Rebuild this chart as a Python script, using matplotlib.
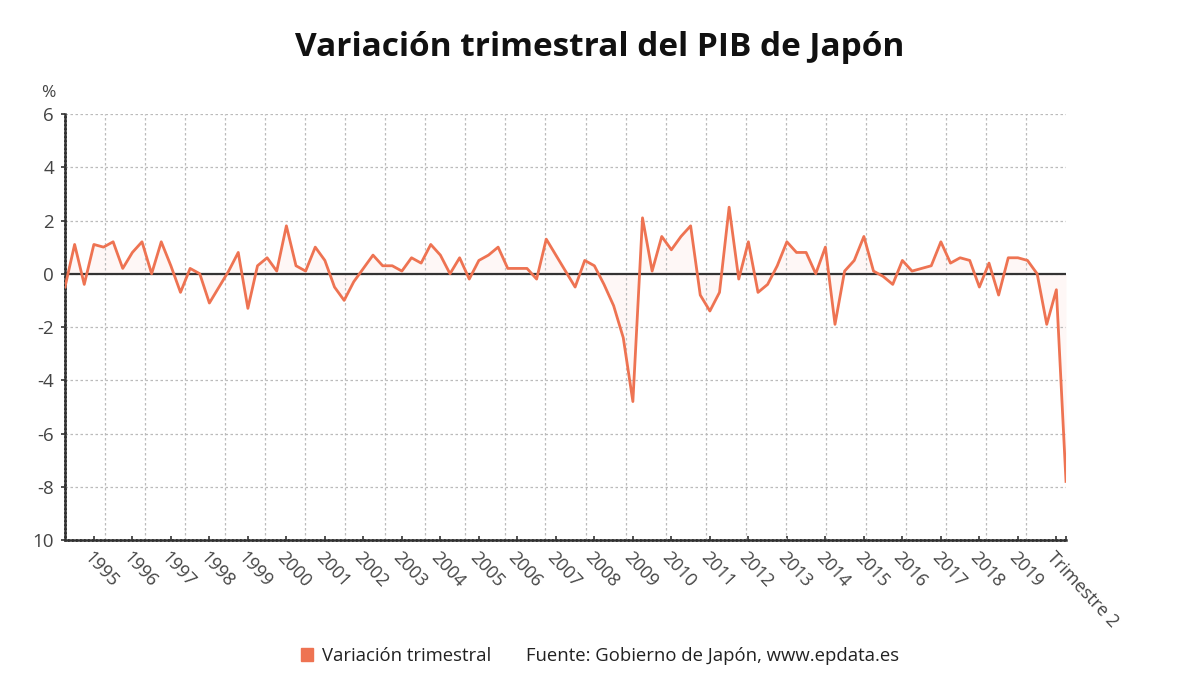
import numpy as np
import matplotlib
matplotlib.use("Agg")
from matplotlib import pyplot as plt
from matplotlib.patches import Patch
from matplotlib.ticker import FixedLocator, FixedFormatter

plt.rcParams['font.family'] = ['Open Sans', 'DejaVu Sans']

# Quarterly GDP change (%), 1994 Q2 .. 2020 Q2
variacion = [
    -0.5, 1.1, -0.4,                               # 1994 Q2-Q4
    1.1, 1.0, 1.2, 0.2,                            # 1995
    0.8, 1.2, 0.0, 1.2,                            # 1996
    0.3, -0.7, 0.2, 0.0,                           # 1997
    -1.1, -0.5, 0.1, 0.8,                          # 1998
    -1.3, 0.3, 0.6, 0.1,                           # 1999
    1.8, 0.3, 0.1, 1.0,                            # 2000
    0.5, -0.5, -1.0, -0.3,                         # 2001
    0.2, 0.7, 0.3, 0.3,                            # 2002
    0.1, 0.6, 0.4, 1.1,                            # 2003
    0.7, 0.0, 0.6, -0.2,                           # 2004
    0.5, 0.7, 1.0, 0.2,                            # 2005
    0.2, 0.2, -0.2, 1.3,                           # 2006
    0.7, 0.1, -0.5, 0.5,                           # 2007
    0.3, -0.4, -1.2, -2.4,                         # 2008
    -4.8, 2.1, 0.1, 1.4,                           # 2009
    0.9, 1.4, 1.8, -0.8,                           # 2010
    -1.4, -0.7, 2.5, -0.2,                         # 2011
    1.2, -0.7, -0.4, 0.3,                          # 2012
    1.2, 0.8, 0.8, 0.0,                            # 2013
    1.0, -1.9, 0.1, 0.5,                           # 2014
    1.4, 0.1, -0.1, -0.4,                          # 2015
    0.5, 0.1, 0.2, 0.3,                            # 2016
    1.2, 0.4, 0.6, 0.5,                            # 2017
    -0.5, 0.4, -0.8, 0.6,                          # 2018
    0.6, 0.5, 0.0, -1.9,                           # 2019
    -0.6, -7.8,                                    # 2020 Q1-Q2
]

tick_labels = [str(y) for y in range(1995, 2020)] + ["Trimestre 2"]
y_ticks = [6, 4, 2, 0, -2, -4, -6, -8, -10]
y_tick_labels = ["6", "4", "2", "0", "-2", "-4", "-6", "-8", "10"]

line_color = "#ee7352"
text_color = "#444444"

x = np.arange(len(variacion))
vals = np.array(variacion)

fig = plt.figure(figsize=(12, 6.75), dpi=100)
ax = fig.add_axes([65 / 1200, 1 - 540 / 675, (1066 - 65) / 1200, (540 - 114) / 675])

ax.fill_between(x, vals, 0, color=line_color, alpha=0.05, lw=0)
ax.plot(x, vals, color=line_color, lw=2.0, zorder=4)
ax.axhline(0, color="#333333", lw=1.6, zorder=3)

ax.set_xlim(0, len(variacion) - 1)
ax.set_ylim(-10, 6)

# labels on Q1 of each year, plus last quarter
tick_pos = list(range(3, len(variacion) - 1, 4)) + [len(variacion) - 1]
ax.xaxis.set_major_locator(FixedLocator(tick_pos))
ax.xaxis.set_major_formatter(FixedFormatter(tick_labels))
# vertical gridlines evenly spaced (not on the ticks)
grid_pos = [k * (len(variacion) - 1) / 25 for k in range(1, 26)]
ax.xaxis.set_minor_locator(FixedLocator(grid_pos))
ax.grid(which="minor", axis="x", color="#bbbbbb", ls=(0, (2, 2)), lw=0.9)
ax.grid(which="major", axis="y", color="#bbbbbb", ls=(0, (2, 2)), lw=0.9)
ax.tick_params(axis="x", which="minor", length=0)
ax.tick_params(axis="x", which="major", length=3, width=1.2, color="#333333",
               direction="in", pad=6, labelsize=13, labelcolor=text_color)
ax.set_yticks(y_ticks)
ax.set_yticklabels(y_tick_labels)
ax.tick_params(axis="y", length=3, width=1.2, color="#333333",
               labelsize=13.5, labelcolor=text_color, pad=5)
for lbl in ax.get_xticklabels():
    lbl.set_rotation(-47)
    lbl.set_ha("left")
    lbl.set_va("top")
    lbl.set_rotation_mode("anchor")

for s in ["top", "right"]:
    ax.spines[s].set_visible(False)
for s in ["left", "bottom"]:
    ax.spines[s].set_color("#333333")
    ax.spines[s].set_linewidth(1.8)
    ax.spines[s].set_linestyle((0, (1, 0.6)))

fig.text(0.5, 1 - 48 / 675, "Variación trimestral del PIB de Japón",
         ha="center", va="center", fontsize=24, fontweight="bold", color="#111111")
fig.text(48 / 1200, 1 - 93 / 675, "%", ha="center", va="center",
         fontsize=12.5, color=text_color)

fig.legend(handles=[Patch(color=line_color, label="Variación trimestral")],
           loc="center left", bbox_to_anchor=(284 / 1200, 1 - 656 / 675),
           frameon=False, fontsize=13.3, handlelength=0.65, handleheight=0.65,
           handletextpad=0.5, labelcolor="#222222")
fig.text(526 / 1200, 1 - 656 / 675, "Fuente: Gobierno de Japón, www.epdata.es",
         ha="left", va="center", fontsize=13.3, color="#222222")

fig.savefig("out.png", dpi=100)
